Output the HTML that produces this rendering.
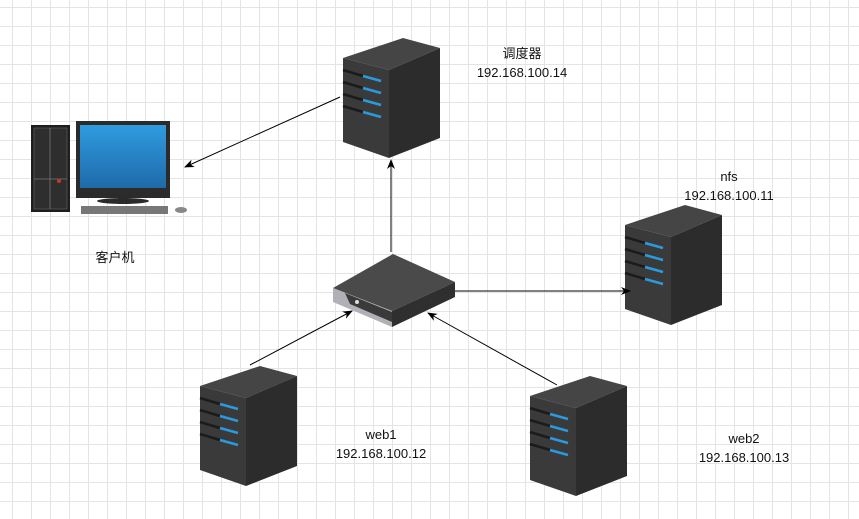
<!DOCTYPE html>
<html><head><meta charset="utf-8"><style>
html,body{margin:0;padding:0;}
body{width:859px;height:519px;overflow:hidden;background:#fff;
background-image:linear-gradient(#e4e4e4 1px,transparent 1px),linear-gradient(90deg,#e4e4e4 1px,transparent 1px);
background-size:19px 19px;background-position:12px 7px;position:relative;
font-family:"Liberation Sans","Noto Sans CJK SC",sans-serif;font-size:13px;color:#111;}
.t{position:absolute;text-align:center;width:160px;line-height:19px;}
svg{position:absolute;left:0;top:0;}
</style></head><body>
<svg width="859" height="519" viewBox="0 0 859 519">
<defs>
<linearGradient id="scr" x1="0" y1="0" x2="0" y2="1"><stop offset="0" stop-color="#2f9be0"/><stop offset="1" stop-color="#1e6aa8"/></linearGradient>
<marker id="a" markerWidth="10" markerHeight="8" refX="9" refY="4" orient="auto" markerUnits="userSpaceOnUse">
<path d="M0,0 L10,4 L0,8 L3,4z" fill="#000"/></marker>
<g id="srv">
<polygon points="0,20 60,0 97,10 46,32" fill="#454545"/>
<polygon points="0,20 46,32 46,120 0,104" fill="#3a3a3a"/>
<polygon points="46,32 97,10 97,100 46,120" fill="#2c2c2c"/>
<g stroke-width="2.5">
<line x1="0" y1="32" x2="20" y2="38" stroke="#1b1b1b"/><line x1="20" y1="38" x2="38" y2="43" stroke="#2a9ae0"/>
<line x1="0" y1="44" x2="20" y2="50" stroke="#1b1b1b"/><line x1="20" y1="50" x2="38" y2="55" stroke="#2a9ae0"/>
<line x1="0" y1="56" x2="20" y2="62" stroke="#1b1b1b"/><line x1="20" y1="62" x2="38" y2="67" stroke="#2a9ae0"/>
<line x1="0" y1="68" x2="20" y2="74" stroke="#1b1b1b"/><line x1="20" y1="74" x2="38" y2="79" stroke="#2a9ae0"/>
</g></g>
</defs>
<use href="#srv" x="343" y="38"/>
<use href="#srv" x="625" y="205"/>
<use href="#srv" x="200" y="366"/>
<use href="#srv" x="530" y="376"/>
<!-- switch -->
<polygon points="333,288 393,254 455,282 392,311" fill="#4a4a4a"/>
<polygon points="333,288 392,311 392,327 333,302" fill="#b0b0b6"/>
<polygon points="345,293 392,312 392,322 350,304" fill="#3a3a3a"/>
<polygon points="392,311 455,282 455,297 392,327" fill="#2f2f2f"/>
<circle cx="357" cy="302" r="2" fill="#ddd"/>
<!-- computer -->
<rect x="31" y="125" width="39" height="87" fill="#1e1e1e"/>
<rect x="34" y="128" width="33" height="81" fill="#2e2e2e" stroke="#666" stroke-width="0.6"/>
<line x1="50" y1="128" x2="50" y2="209" stroke="#777" stroke-width="0.8"/>
<line x1="34" y1="179" x2="67" y2="179" stroke="#777" stroke-width="0.8"/>
<circle cx="59" cy="181" r="2" fill="#c33"/>
<rect x="76" y="121" width="94" height="77" fill="#2b2b2b"/>
<rect x="80" y="125" width="86" height="63" fill="url(#scr)"/>
<rect x="118" y="198" width="10" height="6" fill="#333"/>
<ellipse cx="123" cy="201" rx="26" ry="3" fill="#2a2a2a"/>
<rect x="81" y="206" width="87" height="8" fill="#777"/>
<ellipse cx="181" cy="210" rx="6" ry="3" fill="#888"/>
<!-- arrows -->
<g stroke="#000" stroke-width="1" fill="none">
<line x1="340" y1="97" x2="185" y2="167" marker-end="url(#a)"/>
<line x1="391" y1="252" x2="391" y2="160" marker-end="url(#a)"/>
<line x1="455" y1="291" x2="630" y2="291" marker-end="url(#a)"/>
<line x1="250" y1="365" x2="352" y2="311" marker-end="url(#a)"/>
<line x1="557" y1="385" x2="428" y2="313" marker-end="url(#a)"/>
</g>
</svg>
<div class="t" style="left:442px;top:44px">调度器<br>192.168.100.14</div>
<div class="t" style="left:649px;top:167px">nfs<br>192.168.100.11</div>
<div class="t" style="left:35px;top:248px">客户机</div>
<div class="t" style="left:301px;top:425px">web1<br>192.168.100.12</div>
<div class="t" style="left:664px;top:429px">web2<br>192.168.100.13</div>
</body></html>
